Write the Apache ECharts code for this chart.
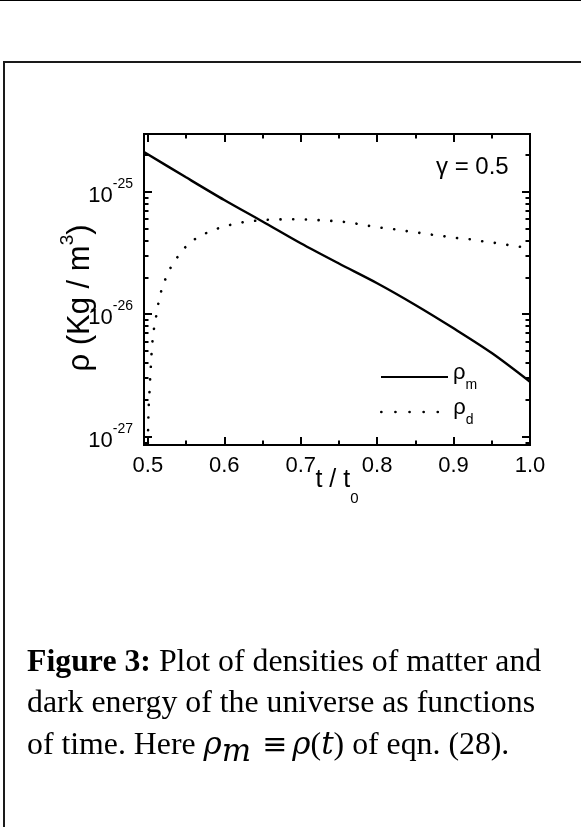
<!DOCTYPE html>
<html><head><meta charset="utf-8">
<script src="https://cdn.jsdelivr.net/npm/echarts@6/dist/echarts.min.js"></script>
<style>
html,body{margin:0;padding:0;background:#fff;}
#wrap{position:relative;width:581px;height:827px;overflow:hidden;background:#fff;}
#chart{position:absolute;left:0;top:0;width:581px;height:827px;}
.topline{position:absolute;left:0;top:0;width:581px;height:1px;background:#000;}
.box{position:absolute;left:3px;top:61px;width:640px;height:820px;border-left:2px solid #1a1a1a;border-top:2px solid #1a1a1a;}
.cap{position:absolute;left:27px;font-family:'Liberation Serif','Times New Roman',serif;font-size:31.8px;color:#000;white-space:nowrap;line-height:24px;}
.cap i{font-family:'DejaVu Serif','Liberation Serif',serif;font-size:31px;}
.cap .eq{font-family:'DejaVu Serif','Liberation Serif',serif;font-size:30px;margin:0 5px 0 3px;}
.cap sub{font-size:22px;vertical-align:-7px;line-height:0;}
</style></head>
<body>
<div id="wrap">
  <div class="topline"></div>
  <div class="box"></div>
  <div id="chart"></div>
  <div class="cap" style="top:649px"><b>Figure 3:</b> Plot of densities of matter and</div>
  <div class="cap" style="top:690px">dark energy of the universe as functions</div>
  <div class="cap" style="top:731px">of time. Here <i>ρ</i><sub><i>m</i></sub> <span class="eq">≡</span><i>ρ</i>(<i>t</i>) of eqn. (28).</div>
</div>
<script>
// ---- data ----
const tMatter = [0.495, 0.55, 0.6, 0.65, 0.7, 0.75, 0.8, 0.85, 0.9, 0.95, 1.0];
const rhoMatter = [2.11e-25, 1.31e-25, 8.55e-26, 5.71e-26, 3.79e-26, 2.59e-26, 1.79e-26, 1.19e-26, 7.67e-27, 4.82e-27, 2.81e-27];

const tDark = [0.4998, 0.5005, 0.5014, 0.5024, 0.5031, 0.5041, 0.5050, 0.5063, 0.5084, 0.5113, 0.5141, 0.5181, 0.5241, 0.5319, 0.5424, 0.5490, 0.5613, 0.5738, 0.5878, 0.6105, 0.6262, 0.6419, 0.6576, 0.675, 0.69, 0.706, 0.722, 0.736, 0.751, 0.768, 0.784, 0.800, 0.815, 0.830, 0.845, 0.861, 0.876, 0.891, 0.906, 0.922, 0.937, 0.952, 0.969, 0.985, 1.0];
const rhoDark = [7.0e-28, 1.30e-27, 1.93e-27, 2.44e-27, 3.05e-27, 3.90e-27, 4.94e-27, 6.24e-27, 7.91e-27, 9.9e-27, 1.26e-26, 1.60e-26, 2.02e-26, 2.55e-26, 3.14e-26, 3.52e-26, 4.09e-26, 4.52e-26, 4.93e-26, 5.42e-26, 5.66e-26, 5.80e-26, 5.90e-26, 5.95e-26, 5.96e-26, 5.93e-26, 5.87e-26, 5.80e-26, 5.72e-26, 5.55e-26, 5.33e-26, 5.12e-26, 5.00e-26, 4.87e-26, 4.69e-26, 4.57e-26, 4.41e-26, 4.30e-26, 4.17e-26, 4.09e-26, 3.94e-26, 3.84e-26, 3.69e-26, 3.56e-26, 3.47e-26];

const xMajorTicks = [0.5, 0.6, 0.7, 0.8, 0.9, 1.0];
const xMinorTicks = [0.55, 0.65, 0.75, 0.85, 0.95];
const yDecades = [1e-27, 1e-26, 1e-25];
const yMinorMantissas = [2, 3, 4, 5, 6, 7, 8, 9];
const seriesNames = ['ρm', 'ρd'];
const annotation = 'γ = 0.5';

// ---- axis ranges (log10 space for the density axis) ----
const X_MIN = 0.495, X_MAX = 1.0;
const Y_MIN = -27.068, Y_MAX = -24.529;

const lg = v => Math.log10(v);
const yMajor = yDecades.map(lg);
const yMinor = [];
[-28, -27, -26, -25].forEach(n => yMinorMantissas.forEach(k => {
  const v = n + Math.log10(k);
  if (v > Y_MIN && v < Y_MAX) yMinor.push(v);
}));

const FONT = 'Liberation Sans, Arial, sans-serif';
const AX = { color: '#000', width: 2 };

function xAxisDef(pos, ticks, len, labels) {
  return {
    type: 'value', position: pos, gridIndex: 0, min: X_MIN, max: X_MAX,
    axisLine: { show: true, onZero: false, lineStyle: AX },
    axisTick: { show: true, inside: true, length: len, customValues: ticks, lineStyle: AX },
    axisLabel: labels ? {
      show: true, customValues: ticks, margin: 10, color: '#000',
      fontFamily: FONT, fontSize: 22,
      formatter: v => Number(v).toFixed(1)
    } : { show: false },
    splitLine: { show: false }
  };
}
function yAxisDef(pos, ticks, len, labels) {
  return {
    type: 'value', position: pos, gridIndex: 0, min: Y_MIN, max: Y_MAX,
    axisLine: { show: true, onZero: false, lineStyle: AX },
    axisTick: { show: true, inside: true, length: len, customValues: ticks, lineStyle: AX },
    axisLabel: labels ? {
      show: true, customValues: ticks, margin: 11, color: '#000',
      formatter: v => '{b|10}{s|' + Math.round(v) + '}',
      rich: {
        b: { fontFamily: FONT, fontSize: 22, lineHeight: 30, verticalAlign: 'bottom', color: '#000' },
        s: { fontFamily: FONT, fontSize: 14, lineHeight: 14, verticalAlign: 'top', color: '#000' }
      }
    } : { show: false },
    splitLine: { show: false }
  };
}

const xs = [
  xAxisDef('bottom', xMajorTicks, 8, true),
  xAxisDef('bottom', xMinorTicks, 4.5, false),
  xAxisDef('top', xMajorTicks, 8, false),
  xAxisDef('top', xMinorTicks, 4.5, false)
];
xs[0].name = '{b|t / t}{s|0}';
xs[0].nameLocation = 'middle';
xs[0].nameGap = 23;
xs[0].nameMoveOverlap = false;
xs[0].nameTextStyle = {
  rich: {
    b: { fontFamily: FONT, fontSize: 25, lineHeight: 38, verticalAlign: 'top', color: '#000' },
    s: { fontFamily: FONT, fontSize: 15, lineHeight: 15, verticalAlign: 'bottom', color: '#000' }
  }
};
const ys = [
  yAxisDef('left', yMajor, 8, true),
  yAxisDef('left', yMinor, 4.5, false),
  yAxisDef('right', yMajor, 8, false),
  yAxisDef('right', yMinor, 4.5, false)
];

const legendRich = {
  r: { fontFamily: FONT, fontSize: 22, lineHeight: 30, verticalAlign: 'top', color: '#000' },
  s: { fontFamily: FONT, fontSize: 14, lineHeight: 14, verticalAlign: 'bottom', color: '#000' }
};
function legendDef(name, top, dash) {
  const l = {
    data: [name], left: 380, top: top, orient: 'vertical',
    itemWidth: 67, itemHeight: 12, itemGap: 0, padding: 0,
    selectedMode: false,
    itemStyle: { opacity: 0 },
    formatter: n => '{r|' + n.charAt(0) + '}{s|' + n.slice(1) + '}',
    textStyle: { rich: legendRich }
  };
  if (dash) l.lineStyle = { width: 2.6, type: dash, cap: 'round', color: '#000' };
  return l;
}

const chart = echarts.init(document.getElementById('chart'), null, { renderer: 'canvas' });
chart.setOption({
  animation: false,
  backgroundColor: 'transparent',
  grid: { left: 144, right: 51, top: 134, bottom: 382, containLabel: false },
  xAxis: xs,
  yAxis: ys,
  legend: [legendDef(seriesNames[0], 362), legendDef(seriesNames[1], 397, [0.1, 14])],
  graphic: [
    {
      type: 'text', left: 436, top: 155,
      style: { text: annotation, fontFamily: FONT, fontSize: 24, fill: '#000' }
    },
    {
      type: 'text', x: 77, y: 298, rotation: Math.PI / 2,
      style: {
        text: '{b|ρ (Kg / m}{s|3}{b|)}',
        align: 'center', verticalAlign: 'middle',
        rich: {
          b: { fontFamily: FONT, fontSize: 31, lineHeight: 38, verticalAlign: 'bottom', fill: '#000' },
          s: { fontFamily: FONT, fontSize: 19, lineHeight: 19, verticalAlign: 'top', fill: '#000' }
        }
      }
    }
  ],
  series: [
    {
      name: seriesNames[0], type: 'line', xAxisIndex: 0, yAxisIndex: 0,
      showSymbol: false, symbol: 'none', clip: true, smooth: 0.3,
      itemStyle: { color: '#000' },
      lineStyle: { color: '#000', width: 2.4 },
      data: tMatter.map((t, i) => [t, lg(rhoMatter[i])])
    },
    {
      name: seriesNames[1], type: 'line', xAxisIndex: 0, yAxisIndex: 0,
      showSymbol: false, symbol: 'none', clip: true,
      itemStyle: { color: '#000' },
      lineStyle: { color: '#000', width: 2.6, type: [0.1, 12.6], cap: 'round' },
      data: tDark.map((t, i) => [t, lg(rhoDark[i])])
    }
  ]
});
</script>
</body></html>
